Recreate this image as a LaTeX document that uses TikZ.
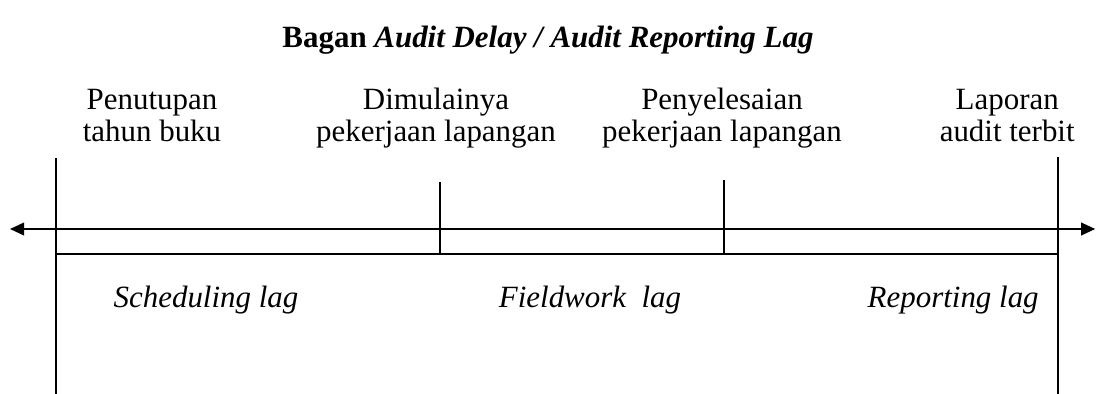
\documentclass[tikz,border=0pt]{standalone}
\usepackage{fontspec}
\setmainfont{Liberation Serif}
\usetikzlibrary{arrows.meta, positioning}

\begin{document}
\begin{tikzpicture}[
  font=\fontsize{22}{22.5}\selectfont,
  judul/.style={font=\fontsize{22}{22.5}\selectfont\bfseries, inner sep=1pt},
  peristiwa/.style={align=center, inner sep=1pt},
  tahap/.style={font=\fontsize{22}{22.5}\selectfont\itshape, inner sep=1pt},
  garis/.style={draw=black, line width=1.3pt},
  panah/.style={garis, {Triangle[length=10pt,width=9pt]}-{Triangle[length=10pt,width=9pt]}}
]
\useasboundingbox (0,0) rectangle (27.4,-9.85);

%--------------------------------------------------------------
% Judul
%--------------------------------------------------------------
\node[judul] (judul) at (13.7,-1.0)
  {Bagan \textit{Audit Delay / Audit Reporting Lag}};

%--------------------------------------------------------------
% Titik-titik waktu
%--------------------------------------------------------------
\foreach \n/\x/\xl/\ytop/\ybot/\atas/\bawah in {%
  1/1.40/3.80/-3.95/-9.85/Penutupan/tahun buku,
  2/11.00/10.90/-4.55/-6.35/Dimulainya/pekerjaan lapangan,
  3/18.10/18.05/-4.50/-6.35/Penyelesaian/pekerjaan lapangan,
  4/26.45/25.18/-3.93/-9.85/Laporan/audit terbit}{
  \node[peristiwa] (ket\n) at (\xl,-2.98) {\strut\atas\\ \strut\bawah};
  \coordinate (atas\n) at (\x,\ytop);
  \coordinate (bawah\n) at (\x,\ybot);
  \draw[garis] (atas\n) -- (bawah\n);
}

%--------------------------------------------------------------
% Garis waktu dan garis bawah
%--------------------------------------------------------------
\coordinate (kiri) at (0.25,-5.725);
\coordinate (kanan) at (27.38,-5.725);
\draw[panah] (kiri) -- (kanan);

\coordinate (awal) at (1.40,-6.35);
\coordinate (akhir) at (26.45,-6.35);
\draw[garis] (awal) -- (akhir);

%--------------------------------------------------------------
% Tahapan lag
%--------------------------------------------------------------
\node[tahap] (jadwal) at (5.15,-7.5) {Scheduling lag};
\node[tahap] (lapangan) at (14.75,-7.5) {Fieldwork\ \ lag};
\node[tahap] (laporan) at (23.83,-7.5) {Reporting lag};

\end{tikzpicture}
\end{document}
